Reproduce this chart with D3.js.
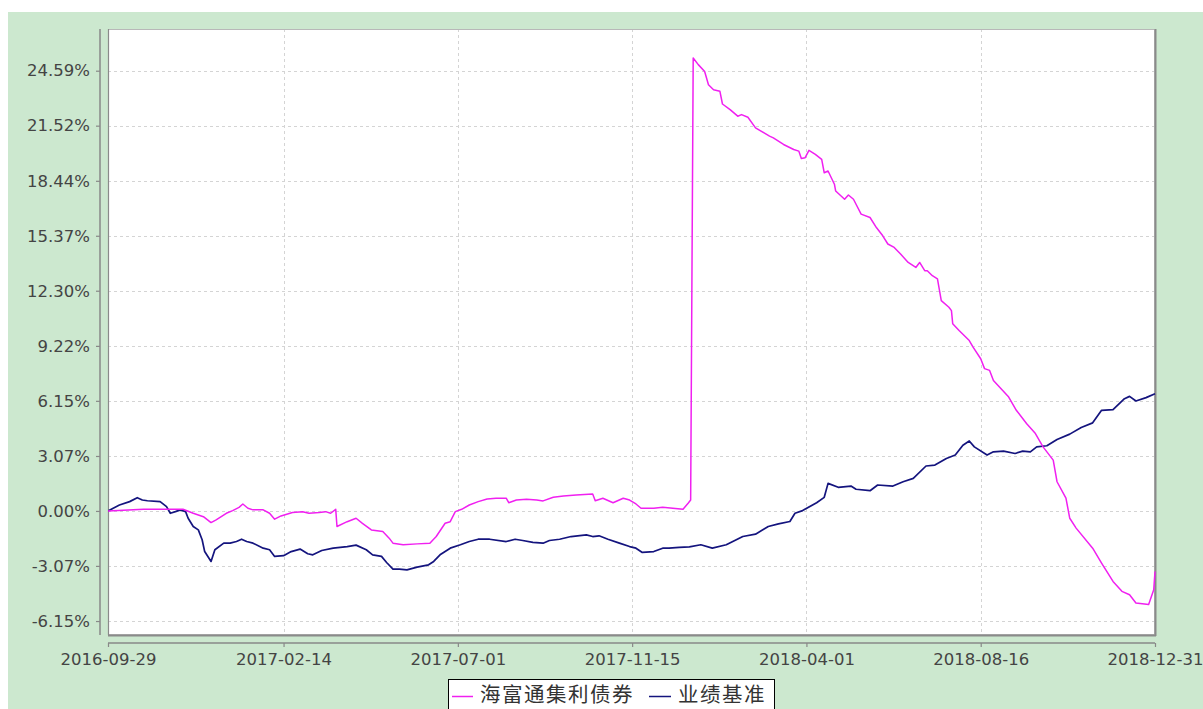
<!DOCTYPE html>
<html>
<head>
<meta charset="utf-8">
<script src="https://cdn.jsdelivr.net/npm/d3@7/dist/d3.min.js"></script>
<style>
  html, body { margin: 0; padding: 0; background: #ffffff; }
  svg { display: block; }
</style>
</head>
<body>
<svg id="chart" width="1203" height="709"></svg>
<script>
// ---- Data ----
const seriesNames = ["海富通集利债券", "业绩基准"];
const xTickLabels = ["2016-09-29", "2017-02-14", "2017-07-01", "2017-11-15", "2018-04-01", "2018-08-16", "2018-12-31"];
const yTickValues = [24.59, 21.52, 18.44, 15.37, 12.30, 9.22, 6.15, 3.07, 0, -3.07, -6.15];
const yTickLabels = ["24.59%", "21.52%", "18.44%", "15.37%", "12.30%", "9.22%", "6.15%", "3.07%", "0.00%", "-3.07%", "-6.15%"];

const fundSeries = [
  ["2016-09-29", 0], ["2016-10-27", 0.09], ["2016-11-27", 0.09], ["2016-12-05", -0.13], ["2016-12-13", -0.32],
  ["2016-12-19", -0.65], ["2016-12-23", -0.50], ["2016-12-31", -0.13], ["2017-01-05", 0.02], ["2017-01-10", 0.20],
  ["2017-01-13", 0.39], ["2017-01-17", 0.15], ["2017-01-21", 0.06], ["2017-01-29", 0.06], ["2017-02-03", -0.13],
  ["2017-02-07", -0.46], ["2017-02-12", -0.28], ["2017-02-21", -0.09], ["2017-03-01", -0.04], ["2017-03-06", -0.13],
  ["2017-03-14", -0.09], ["2017-03-19", -0.04], ["2017-03-23", -0.13], ["2017-03-27", 0.09], ["2017-03-28", -0.87],
  ["2017-04-05", -0.60], ["2017-04-12", -0.41], ["2017-04-17", -0.69], ["2017-04-24", -1.06], ["2017-05-03", -1.15],
  ["2017-05-08", -1.52], ["2017-05-11", -1.80], ["2017-05-19", -1.89], ["2017-05-30", -1.84], ["2017-06-09", -1.80],
  ["2017-06-14", -1.43], ["2017-06-21", -0.69], ["2017-06-25", -0.60], ["2017-06-29", -0.04], ["2017-07-04", 0.09],
  ["2017-07-10", 0.33], ["2017-07-17", 0.52], ["2017-07-24", 0.67], ["2017-07-31", 0.71], ["2017-08-08", 0.71],
  ["2017-08-10", 0.46], ["2017-08-16", 0.61], ["2017-08-24", 0.65], ["2017-09-01", 0.61], ["2017-09-06", 0.56],
  ["2017-09-14", 0.76], ["2017-09-22", 0.84], ["2017-10-02", 0.89], ["2017-10-15", 0.95], ["2017-10-17", 0.57],
  ["2017-10-23", 0.71], ["2017-10-31", 0.46], ["2017-11-08", 0.71], ["2017-11-13", 0.61], ["2017-11-18", 0.39],
  ["2017-11-22", 0.15], ["2017-12-02", 0.15], ["2017-12-09", 0.20], ["2017-12-17", 0.15], ["2017-12-25", 0.09],
  ["2017-12-29", 0.43], ["2017-12-31", 0.61], ["2018-01-02", 25.30], ["2018-01-06", 24.93], ["2018-01-11", 24.55],
  ["2018-01-14", 23.81], ["2018-01-18", 23.53], ["2018-01-23", 23.44], ["2018-01-25", 22.73], ["2018-01-31", 22.42],
  ["2018-02-06", 22.05], ["2018-02-09", 22.14], ["2018-02-14", 21.99], ["2018-02-20", 21.40], ["2018-03-03", 20.94],
  ["2018-03-06", 20.84], ["2018-03-14", 20.47], ["2018-03-22", 20.19], ["2018-03-26", 20.10], ["2018-03-28", 19.69],
  ["2018-03-31", 19.73], ["2018-04-03", 20.14], ["2018-04-08", 19.92], ["2018-04-13", 19.64], ["2018-04-15", 18.89],
  ["2018-04-18", 18.99], ["2018-04-23", 18.25], ["2018-04-24", 17.87], ["2018-05-01", 17.41], ["2018-05-04", 17.65],
  ["2018-05-08", 17.41], ["2018-05-10", 17.13], ["2018-05-14", 16.58], ["2018-05-21", 16.39], ["2018-05-26", 15.83],
  ["2018-05-31", 15.37], ["2018-06-04", 14.91], ["2018-06-09", 14.72], ["2018-06-14", 14.35], ["2018-06-20", 13.88],
  ["2018-06-26", 13.60], ["2018-06-29", 13.88], ["2018-07-03", 13.42], ["2018-07-05", 13.42], ["2018-07-09", 13.14],
  ["2018-07-13", 12.96], ["2018-07-16", 11.75], ["2018-07-22", 11.38], ["2018-07-24", 11.19], ["2018-07-25", 10.45],
  ["2018-07-30", 10.08], ["2018-08-07", 9.52], ["2018-08-10", 9.15], ["2018-08-16", 8.50], ["2018-08-19", 7.95],
  ["2018-08-23", 7.85], ["2018-08-26", 7.29], ["2018-09-07", 6.36], ["2018-09-13", 5.62], ["2018-09-21", 4.88],
  ["2018-09-28", 4.32], ["2018-10-04", 3.58], ["2018-10-12", 2.84], ["2018-10-15", 1.63], ["2018-10-22", 0.71],
  ["2018-10-25", -0.41], ["2018-10-30", -0.96], ["2018-11-12", -2.08], ["2018-11-19", -2.91], ["2018-11-28", -3.94],
  ["2018-12-05", -4.49], ["2018-12-11", -4.68], ["2018-12-16", -5.14], ["2018-12-26", -5.23], ["2018-12-30", -4.40],
  ["2018-12-31", -3.38]
];

const benchSeries = [
  ["2016-09-29", 0], ["2016-10-08", 0.33], ["2016-10-16", 0.52], ["2016-10-22", 0.74], ["2016-10-26", 0.61],
  ["2016-10-30", 0.57], ["2016-11-09", 0.52], ["2016-11-14", 0.24], ["2016-11-17", -0.13], ["2016-11-21", -0.04],
  ["2016-11-25", 0.06], ["2016-11-29", -0.04], ["2016-12-01", -0.41], ["2016-12-05", -0.87], ["2016-12-09", -1.06],
  ["2016-12-12", -1.61], ["2016-12-14", -2.27], ["2016-12-19", -2.82], ["2016-12-22", -2.17], ["2016-12-29", -1.80],
  ["2017-01-03", -1.80], ["2017-01-08", -1.71], ["2017-01-12", -1.58], ["2017-01-16", -1.71], ["2017-01-21", -1.80],
  ["2017-01-29", -2.08], ["2017-02-03", -2.17], ["2017-02-07", -2.54], ["2017-02-14", -2.50], ["2017-02-20", -2.27],
  ["2017-02-27", -2.13], ["2017-03-05", -2.39], ["2017-03-09", -2.45], ["2017-03-16", -2.21], ["2017-03-25", -2.08],
  ["2017-04-05", -1.99], ["2017-04-12", -1.91], ["2017-04-20", -2.17], ["2017-04-25", -2.45], ["2017-05-02", -2.54],
  ["2017-05-06", -2.88], ["2017-05-11", -3.25], ["2017-05-16", -3.25], ["2017-05-22", -3.29], ["2017-05-30", -3.14],
  ["2017-06-08", -3.01], ["2017-06-12", -2.82], ["2017-06-17", -2.45], ["2017-06-25", -2.08], ["2017-07-03", -1.89],
  ["2017-07-10", -1.71], ["2017-07-17", -1.58], ["2017-07-26", -1.58], ["2017-08-08", -1.71], ["2017-08-15", -1.58],
  ["2017-08-21", -1.65], ["2017-08-29", -1.76], ["2017-09-06", -1.80], ["2017-09-11", -1.65], ["2017-09-19", -1.58],
  ["2017-09-28", -1.43], ["2017-10-10", -1.34], ["2017-10-15", -1.43], ["2017-10-20", -1.39], ["2017-10-27", -1.58],
  ["2017-11-05", -1.80], ["2017-11-13", -1.99], ["2017-11-18", -2.08], ["2017-11-23", -2.32], ["2017-12-02", -2.27],
  ["2017-12-09", -2.08], ["2017-12-14", -2.08], ["2017-12-22", -2.04], ["2017-12-30", -2.01], ["2018-01-08", -1.89],
  ["2018-01-17", -2.08], ["2018-01-28", -1.89], ["2018-02-10", -1.43], ["2018-02-20", -1.30], ["2018-03-02", -0.87],
  ["2018-03-10", -0.72], ["2018-03-19", -0.59], ["2018-03-23", -0.13], ["2018-03-29", 0.02], ["2018-04-09", 0.46],
  ["2018-04-15", 0.76], ["2018-04-18", 1.54], ["2018-04-26", 1.32], ["2018-05-06", 1.39], ["2018-05-10", 1.21],
  ["2018-05-21", 1.13], ["2018-05-27", 1.45], ["2018-06-08", 1.39], ["2018-06-16", 1.63], ["2018-06-24", 1.82],
  ["2018-07-04", 2.51], ["2018-07-11", 2.56], ["2018-07-20", 2.93], ["2018-07-27", 3.12], ["2018-08-02", 3.67],
  ["2018-08-07", 3.91], ["2018-08-11", 3.58], ["2018-08-21", 3.12], ["2018-08-26", 3.30], ["2018-09-03", 3.34],
  ["2018-09-12", 3.21], ["2018-09-18", 3.34], ["2018-09-24", 3.30], ["2018-09-29", 3.58], ["2018-10-07", 3.64],
  ["2018-10-15", 3.99], ["2018-10-25", 4.29], ["2018-11-03", 4.66], ["2018-11-12", 4.92], ["2018-11-19", 5.62],
  ["2018-11-28", 5.66], ["2018-12-07", 6.27], ["2018-12-11", 6.40], ["2018-12-16", 6.14], ["2018-12-24", 6.33],
  ["2018-12-31", 6.55]
];

const seriesColors = ["#f020f0", "#14147e"];

// ---- Layout ----
const W = 1203, H = 709;
const plot = { left: 108, right: 1155, top: 29, bottom: 635 };
const parse = d3.utcParse("%Y-%m-%d");

const svg = d3.select("#chart");

// background
svg.append("rect").attr("x", 0).attr("y", 0).attr("width", W).attr("height", H).attr("fill", "#ffffff");
svg.append("rect").attr("x", 8).attr("y", 12).attr("width", W - 8).attr("height", H - 12).attr("fill", "#cce8cf");

// scales
const x = d3.scaleUtc()
  .domain([parse(xTickLabels[0]), parse(xTickLabels[xTickLabels.length - 1])])
  .range([plot.left, plot.right]);
const y = d3.scaleLinear()
  .domain([-6.93, 26.92])
  .range([plot.bottom, plot.top]);

// plot area
svg.append("rect")
  .attr("x", plot.left).attr("y", plot.top)
  .attr("width", plot.right - plot.left).attr("height", plot.bottom - plot.top)
  .attr("fill", "#ffffff");

// gridlines
const grid = svg.append("g").attr("stroke", "#d4d4d4").attr("stroke-width", 1).attr("stroke-dasharray", "3,3");
grid.selectAll("line.h").data(yTickValues).join("line")
  .attr("x1", plot.left).attr("x2", plot.right)
  .attr("y1", d => Math.round(y(d)) + 0.5).attr("y2", d => Math.round(y(d)) + 0.5);
grid.selectAll("line.v").data(xTickLabels.slice(1, -1)).join("line")
  .attr("y1", plot.top).attr("y2", plot.bottom)
  .attr("x1", d => Math.round(x(parse(d))) + 0.5).attr("x2", d => Math.round(x(parse(d))) + 0.5);

// plot border
svg.append("rect")
  .attr("x", plot.left + 0.5).attr("y", plot.top + 0.5)
  .attr("width", plot.right - plot.left - 1).attr("height", plot.bottom - plot.top - 1)
  .attr("fill", "none").attr("stroke", "#b8b8b8").attr("stroke-width", 1);
svg.append("line").attr("x1", plot.left + 0.5).attr("x2", plot.left + 0.5)
  .attr("y1", plot.top).attr("y2", plot.bottom).attr("stroke", "#8a8a8a").attr("stroke-width", 1.2);
svg.append("line").attr("x1", plot.right + 0.5).attr("x2", plot.right + 0.5)
  .attr("y1", plot.top).attr("y2", plot.bottom + 1).attr("stroke", "#8a8a8a").attr("stroke-width", 2);
svg.append("line").attr("x1", plot.left).attr("x2", plot.right + 1)
  .attr("y1", plot.bottom + 0.5).attr("y2", plot.bottom + 0.5).attr("stroke", "#8a8a8a").attr("stroke-width", 2);

// lines
svg.append("clipPath").attr("id", "clip").append("rect")
  .attr("x", plot.left).attr("y", plot.top)
  .attr("width", plot.right - plot.left + 1).attr("height", plot.bottom - plot.top);

const line = d3.line().x(d => x(parse(d[0]))).y(d => y(d[1]));
const lines = svg.append("g").attr("clip-path", "url(#clip)").attr("fill", "none")
  .attr("stroke-linejoin", "round");
lines.append("path").datum(benchSeries).attr("d", line)
  .attr("stroke", seriesColors[1]).attr("stroke-width", 1.7);
lines.append("path").datum(fundSeries).attr("d", line)
  .attr("stroke", seriesColors[0]).attr("stroke-width", 1.5);

// axes
const axisColor = "#888888";
const textColor = "#444444";
const font = "'DejaVu Sans', Verdana, sans-serif";

const yAxis = d3.axisLeft(y).tickValues(yTickValues).tickSize(4).tickPadding(6)
  .tickFormat((d, i) => yTickLabels[i]);
const gy = svg.append("g").attr("transform", "translate(100,0)").call(yAxis);
gy.select(".domain").attr("d", `M0,${plot.top}V${plot.bottom}`).attr("stroke", axisColor).attr("stroke-width", 1.5);
gy.selectAll(".tick line").attr("stroke", axisColor).attr("stroke-width", 1.2);
gy.selectAll(".tick text").attr("fill", textColor).style("font-family", font).style("font-size", "16.5px");

const xAxis = d3.axisBottom(x).tickValues(xTickLabels.map(parse)).tickSize(4).tickPadding(6)
  .tickFormat((d, i) => xTickLabels[i]);
const gx = svg.append("g").attr("transform", "translate(0,643)").call(xAxis);
gx.select(".domain").attr("d", `M${plot.left},0H${plot.right}`).attr("stroke", axisColor).attr("stroke-width", 1.5);
gx.selectAll(".tick line").attr("stroke", axisColor).attr("stroke-width", 1.2);
gx.selectAll(".tick text").attr("fill", textColor).style("font-family", font).style("font-size", "16.5px");

// legend
const lg = svg.append("g");
lg.append("rect").attr("x", 448.5).attr("y", 679.5).attr("width", 326).attr("height", 40)
  .attr("fill", "#ffffff").attr("stroke", "#000000").attr("stroke-width", 1);
const legendItems = [
  { name: seriesNames[0], color: seriesColors[0], x0: 452, x1: 473, tx: 480 },
  { name: seriesNames[1], color: seriesColors[1], x0: 649, x1: 671, tx: 678 }
];
legendItems.forEach(it => {
  lg.append("line").attr("x1", it.x0).attr("x2", it.x1).attr("y1", 696.5).attr("y2", 696.5)
    .attr("stroke", it.color).attr("stroke-width", 1.5);
  lg.append("text").attr("x", it.tx).attr("y", 702).text(it.name)
    .attr("fill", "#333333")
    .style("font-family", "'Noto Sans CJK SC', sans-serif").style("font-size", "20.5px")
    .style("letter-spacing", "1.5px");
});
</script>
</body>
</html>
